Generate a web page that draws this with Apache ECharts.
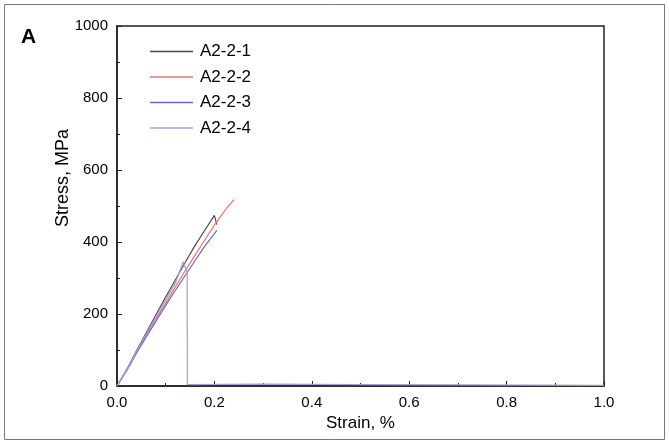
<!DOCTYPE html>
<html><head><meta charset="utf-8">
<script src="https://cdn.jsdelivr.net/npm/echarts@6/dist/echarts.min.js"></script>
<style>html,body{margin:0;padding:0;background:#fff}#c{width:669px;height:445px}</style>
</head><body><div id="c"></div>
<script>
const seriesNames = ['A2-2-1','A2-2-2','A2-2-3','A2-2-4'];
const strain1 = [0,0.02,0.04,0.06,0.08,0.10,0.12,0.14,0.16,0.18,0.20,0.205];
const stress1 = [0,46,98,148,198,247,295,343,390,432,474,448];
const strain2 = [0,0.02,0.04,0.06,0.08,0.10,0.12,0.14,0.16,0.18,0.20,0.22,0.24];
const stress2 = [0,44,94,140,186,231,276,320,363,405,447,485,518];
const strain3 = [0,0.02,0.04,0.06,0.08,0.10,0.12,0.14,0.16,0.18,0.205];
const stress3 = [0,43,91,136,180,224,266,307,348,388,432];
const strain4 = [0,0.02,0.04,0.06,0.08,0.10,0.12,0.136,0.144,0.1445,0.3,0.5,0.7,1.0];
const stress4 = [0,45,96,144,192,240,287,345,316,4,5,4,3,2];
const colors = ['#4a4a4a','#e5786c','#6d66c9','#a79dd4'];

const zip = (xs, ys) => xs.map((x, i) => [x, ys[i]]);
const datasets = [zip(strain1, stress1), zip(strain2, stress2), zip(strain3, stress3), zip(strain4, stress4)];

const chart = echarts.init(document.getElementById('c'), null, {renderer: 'canvas'});
const font = 'Liberation Sans, Arial, sans-serif';
chart.setOption({
  animation: false,
  backgroundColor: '#fff',
  color: colors,
  graphic: [
    {type: 'rect', shape: {x: 4.5, y: 4.5, width: 660, height: 435}, style: {fill: 'none', stroke: '#777', lineWidth: 1}},
    {type: 'text', left: 21, top: 27, style: {text: 'A', font: 'bold 21px ' + font, fill: '#000'}}
  ],
  grid: {left: 117, right: 65, top: 26, bottom: 59, show: true, borderColor: '#222', borderWidth: 1.5},
  legend: {
    orient: 'vertical', left: 145, top: 38, icon: 'rect', itemWidth: 43, itemHeight: 1.6, itemGap: 8.5,
    textStyle: {fontFamily: font, fontSize: 17, color: '#000', padding: [0, 0, 0, 2]},
    data: seriesNames
  },
  xAxis: {
    type: 'value', min: 0, max: 1, interval: 0.2,
    name: 'Strain, %', nameLocation: 'middle', nameGap: 29,
    nameTextStyle: {fontFamily: font, fontSize: 17, color: '#000'},
    axisLine: {lineStyle: {color: '#222', width: 1.5}},
    axisTick: {inside: true, length: 5, lineStyle: {color: '#222'}},
    minorTick: {show: true, splitNumber: 2, length: 3, lineStyle: {color: '#222'}},
    axisLabel: {fontFamily: font, fontSize: 15, color: '#000', margin: 9, formatter: v => v.toFixed(1)},
    splitLine: {show: false}
  },
  yAxis: {
    type: 'value', min: 0, max: 1000, interval: 200,
    name: 'Stress, MPa', nameLocation: 'middle', nameGap: 45, nameMoveOverlap: false,
    nameTextStyle: {fontFamily: font, fontSize: 18, color: '#000', padding: [0, 0, 0, 56]},
    axisLine: {show: true, lineStyle: {color: '#222', width: 1.5}},
    axisTick: {inside: true, length: 5, lineStyle: {color: '#222'}},
    minorTick: {show: true, splitNumber: 2, length: 3, lineStyle: {color: '#222'}},
    axisLabel: {fontFamily: font, fontSize: 15, color: '#000', margin: 9, formatter: v => String(v)},
    splitLine: {show: false}
  },
  series: datasets.map((d, i) => ({
    name: seriesNames[i], type: 'line', data: d, symbol: 'none',
    lineStyle: {width: 1.2, color: colors[i]}
  }))
});
</script></body></html>
